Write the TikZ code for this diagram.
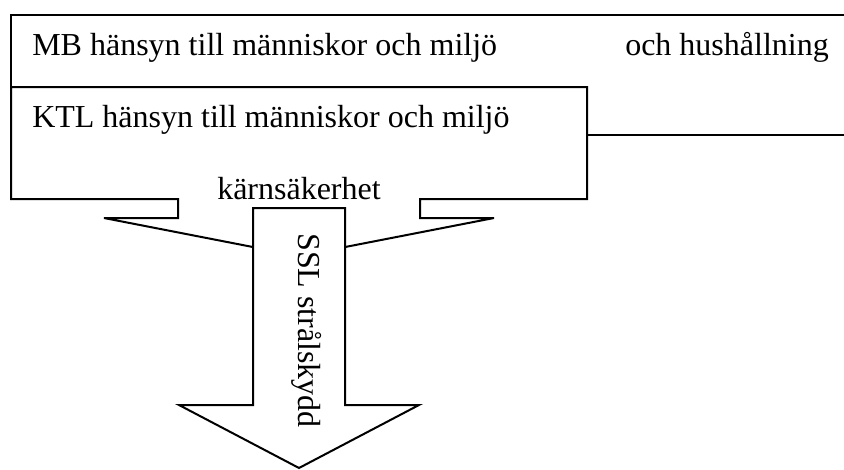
\documentclass[tikz,border=0pt]{standalone}
\usepackage{fontspec}
\setmainfont{Liberation Serif}
\begin{document}
\begin{tikzpicture}[x=0.75pt,y=-0.75pt,
  outline/.style={draw=black,line width=1.5pt,line join=miter},
  lbl/.style={inner sep=0pt,font=\fontsize{24}{28}\selectfont}]
\useasboundingbox (0,0) rectangle (844,469);
% MB box (open to the right)
\draw[outline] (850,15) -- (11,15) -- (11,135) -- (850,135);
% KTL box with kärnsäkerhet arrow
\draw[outline,fill=white] (11,87) -- (587,87) -- (587,199) -- (420,199) -- (420,218)
  -- (494,218) -- (299,256) -- (104,218) -- (178,218) -- (178,199) -- (11,199) -- cycle;
% SSL arrow
\draw[outline,fill=white] (253,208) -- (345,208) -- (345,405) -- (419,405) -- (299,468)
  -- (179,405) -- (253,405) -- cycle;
\node[lbl,anchor=base west] (mb) at (32,55) {MB hänsyn till människor och miljö};
\node[lbl,anchor=base west] (hush) at (625,55) {och hushållning};
\node[lbl,anchor=base west] (ktl) at (32,127) {KTL hänsyn till människor och miljö};
\node[lbl,anchor=base] (karn) at (299,199) {kärnsäkerhet};
\node[lbl,anchor=base west,rotate=-90] (ssl) at (298,233) {SSL strålskydd};
\end{tikzpicture}
\end{document}
